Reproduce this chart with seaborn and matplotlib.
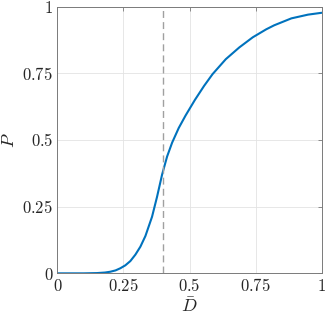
import matplotlib
matplotlib.use("Agg")
import matplotlib.pyplot as plt
import seaborn as sns
import pandas as pd

D_vals = [0, 0.1, 0.15, 0.18, 0.2, 0.22, 0.238, 0.257, 0.276, 0.295, 0.314,
          0.333, 0.358, 0.377, 0.396, 0.415, 0.434, 0.459, 0.485, 0.52, 0.555,
          0.587, 0.637, 0.688, 0.739, 0.79, 0.82, 0.885, 0.948, 1.0]
P_vals = [0, 0, 0.001, 0.003, 0.006, 0.011, 0.019, 0.03, 0.046, 0.07, 0.10,
          0.14, 0.212, 0.287, 0.37, 0.438, 0.49, 0.545, 0.592, 0.65, 0.703,
          0.747, 0.803, 0.847, 0.885, 0.915, 0.93, 0.956, 0.97, 0.977]
threshold = 0.4
tick_vals = [0, 0.25, 0.5, 0.75, 1]
tick_labels = ["0", "0.25", "0.5", "0.75", "1"]

sns.set_style("white")
plt.rcParams["mathtext.fontset"] = "cm"
plt.rcParams["font.family"] = ["DejaVu Serif"]

fig = plt.figure(figsize=(3.26, 3.16), dpi=100)
ax = fig.add_axes([0.176, 0.135, 0.811, 0.844])

df = pd.DataFrame({"D": D_vals, "P": P_vals})
sns.lineplot(data=df, x="D", y="P", ax=ax, color="#0072BD", linewidth=1.5)
ax.axvline(threshold, color="#a0a0a0", linestyle=(0, (5, 3)), linewidth=1.0)

ax.set_xlim(0, 1)
ax.set_ylim(0, 1)
ax.set_xticks(tick_vals)
ax.set_yticks(tick_vals)
ax.set_xticklabels([f"${t}$" for t in tick_labels], fontsize=12)
ax.set_yticklabels([f"${t}$" for t in tick_labels], fontsize=12)
ax.set_xlabel(r"$\bar{D}$", fontsize=13, labelpad=2)
ax.set_ylabel(r"$P$", fontsize=13, labelpad=3)

ax.grid(True, color="#e3e3e3", linewidth=0.6)
ax.set_axisbelow(True)
for s in ax.spines.values():
    s.set_visible(True)
    s.set_color("#7a7a7a")
    s.set_linewidth(0.7)
ax.tick_params(direction="in", length=3, width=0.6, color="#7a7a7a",
               top=True, right=True, labelcolor="#262626", pad=3)

fig.savefig("out.png", dpi=100)
